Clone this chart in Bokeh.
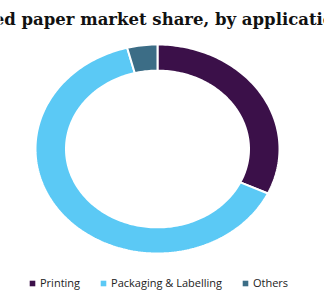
import numpy as np
from bokeh.plotting import figure
from bokeh.models import Range1d, Label, Legend, LegendItem, ColumnDataSource
from bokeh.embed import file_html
from bokeh.resources import INLINE

title_text = "Global coated paper market share, by application, 2016 (%)"
categories = ["Printing", "Packaging & Labelling", "Others"]
shares = [32, 64, 4]
colors = ["#3b1049", "#5bc9f5", "#3c6d86"]

W, H = 324, 300
cx_px, cy_px = 157, 148.5   # from top
rx_px, ry_px = 122, 104.5
inner = 0.75

p = figure(width=W, height=H, output_backend="svg", toolbar_location=None,
           min_border=0, outline_line_color=None)
p.x_range = Range1d(-cx_px / rx_px, (W - cx_px) / rx_px)
p.y_range = Range1d(-(H - cy_px) / ry_px, cy_px / ry_px)
p.axis.visible = False
p.grid.visible = False
p.background_fill_color = "white"

total = float(sum(shares))
cum = np.concatenate([[0], np.cumsum(shares)]) / total
renderers = []
for i, cat in enumerate(categories):
    a0 = np.pi / 2 - 2 * np.pi * cum[i]
    a1 = np.pi / 2 - 2 * np.pi * cum[i + 1]
    n = max(int(300 * (cum[i + 1] - cum[i])), 8)
    t = np.linspace(a0, a1, n)
    xs = np.concatenate([np.cos(t), inner * np.cos(t[::-1])])
    ys = np.concatenate([np.sin(t), inner * np.sin(t[::-1])])
    src = ColumnDataSource(dict(x=xs, y=ys))
    r = p.patch("x", "y", source=src, fill_color=colors[i], line_color="white", line_width=2)
    renderers.append(r)

p.add_layout(Label(x=W / 2 + 2, y=H - 19, x_units="screen", y_units="screen", text=title_text,
                   text_align="center", text_baseline="alphabetic",
                   text_font="DejaVu Serif", text_font_style="bold", text_font_size="16.5px",
                   text_color="#111111"))

legend_items = []
for c, r, col in zip(categories, renderers, colors):
    g = p.scatter([0], [0], marker="square", size=6, fill_color=col, line_color=None, visible=False)
    legend_items.append(LegendItem(label=c, renderers=[g]))

legend = Legend(items=legend_items,
                orientation="horizontal", location=(25, 10), glyph_width=14, glyph_height=14,
                label_text_font="Open Sans", label_text_font_size="11px", label_text_color="#222222",
                spacing=16, label_standoff=1, padding=2, border_line_color=None,
                background_fill_alpha=0)
p.add_layout(legend)

open("out.html", "w").write(file_html(p, INLINE))
